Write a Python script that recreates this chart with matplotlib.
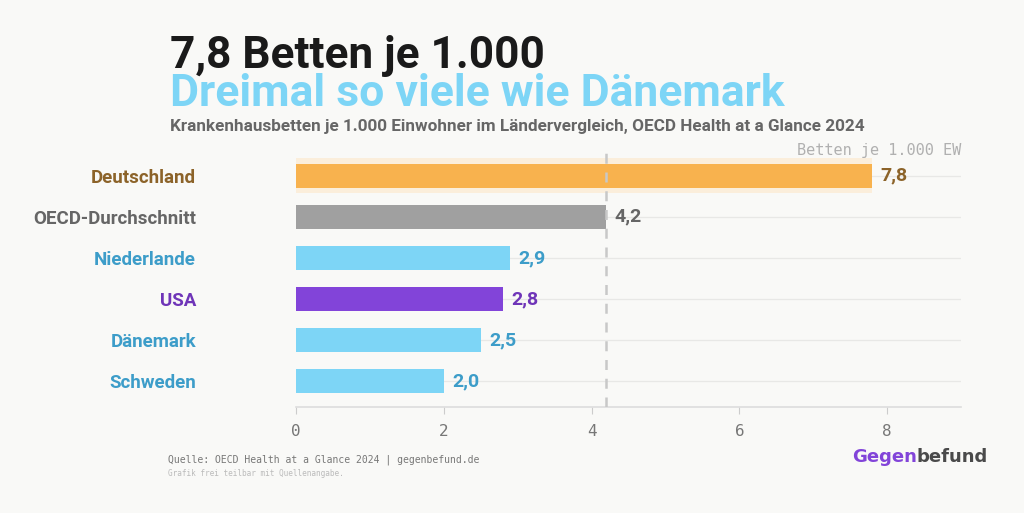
import numpy as np
import matplotlib.pyplot as plt

# Daten: Krankenhausbetten je 1.000 Einwohner
countries = ['Deutschland', 'OECD-Durchschnitt', 'Niederlande', 'USA', 'Dänemark', 'Schweden']
values = [7.8, 4.2, 2.9, 2.8, 2.5, 2.0]
value_labels = ['7,8', '4,2', '2,9', '2,8', '2,5', '2,0']
bar_colors = ['#f8b24e', '#a0a0a0', '#7dd5f6', '#8244d9', '#7dd5f6', '#7dd5f6']
text_colors = ['#8c6329', '#666666', '#3d9dc9', '#6f35b8', '#3d9dc9', '#3d9dc9']
oecd_avg = 4.2
xticks = [0, 2, 4, 6, 8]

sans = ['Roboto', 'DejaVu Sans']
mono = ['DejaVu Sans Mono']

bg = '#f9f9f7'
fig = plt.figure(figsize=(10.24, 5.13), dpi=100, facecolor=bg)
ax = fig.add_axes([0.289, 0.2066, 0.6495, 0.501])
ax.set_facecolor(bg)

y = np.arange(len(countries))[::-1]

# Hervorhebung Deutschland
ax.barh(y[0], values[0], height=0.85, color='#fbeedb', zorder=1)
ax.barh(y, values, height=0.58, color=bar_colors, zorder=3)

for yy in y:
    ax.axhline(yy, color='#e8e8e6', lw=0.9, zorder=0)

ax.axvline(oecd_avg, color='#c8c8c8', lw=1.8, ls=(0, (4, 3.5)), zorder=4)

for yy, v, lab, c in zip(y, values, value_labels, text_colors):
    ax.annotate(lab, (v, yy), xytext=(6, 0), textcoords='offset points',
                va='center', ha='left', fontsize=14, fontweight='bold',
                color=c, family=sans, zorder=5)

ax.set_xlim(0, 9)
ax.set_ylim(-0.63, 5.63)
ax.set_xticks(xticks)
ax.set_xticklabels([str(t) for t in xticks], family=mono, fontsize=11.5, color='#777777')
ax.set_yticks(y)
ax.set_yticklabels(countries, family=sans, fontsize=13.5, fontweight='bold')
for lbl, c in zip(ax.get_yticklabels(), text_colors):
    lbl.set_color(c)
ax.tick_params(axis='y', length=0, pad=72)
ax.tick_params(axis='x', length=5, color='#cccccc', pad=7)
for s in ['top', 'right', 'left']:
    ax.spines[s].set_visible(False)
ax.spines['bottom'].set_color('#dddddd')
ax.spines['bottom'].set_linewidth(1.2)

ax.text(1.0, 1.0, 'Betten je 1.000 EW', transform=ax.transAxes, ha='right', va='center',
        family=mono, fontsize=11, color='#b0b0b0')

# Titel
fig.text(0.166, 0.867, '7,8 Betten je 1.000', family=sans, fontsize=31.8, fontweight='bold',
         color='#1a1a1a', va='baseline')
fig.text(0.166, 0.793, 'Dreimal so viele wie Dänemark', family=sans, fontsize=32,
         fontweight='bold', color='#7dd5f6', va='baseline')
fig.text(0.166, 0.745, 'Krankenhausbetten je 1.000 Einwohner im Ländervergleich, OECD Health at a Glance 2024',
         family=sans, fontsize=12.3, fontweight='bold', color='#666666', va='baseline')

# Fußzeile
fig.text(0.164, 0.099, 'Quelle: OECD Health at a Glance 2024 | gegenbefund.de', family=mono,
         fontsize=7.0, color='#777777', va='baseline')
fig.text(0.164, 0.072, 'Grafik frei teilbar mit Quellenangabe.', family=mono,
         fontsize=5.6, color='#bbbbbb', va='baseline')
t = fig.text(0.832, 0.099, 'Gegen', family='DejaVu Sans', fontsize=13, fontweight='bold',
             color='#8244d9', va='baseline')
fig.canvas.draw()
bb = t.get_window_extent().transformed(fig.transFigure.inverted())
fig.text(bb.x1, 0.099, 'befund', family='DejaVu Sans', fontsize=13, fontweight='bold',
         color='#4a4a4a', va='baseline')

plt.savefig('out.png', dpi=100, facecolor=bg)
